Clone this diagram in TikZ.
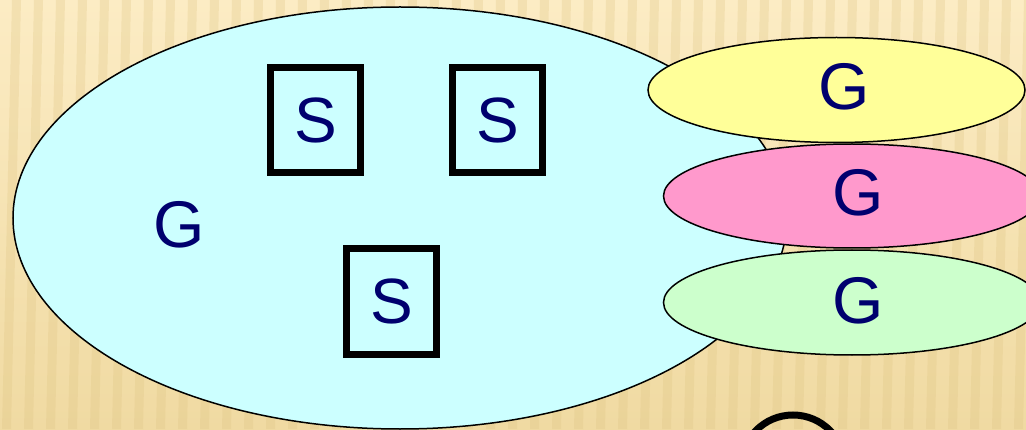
\documentclass[tikz,border=0pt]{standalone}
\usepackage{fontspec}
\setmainfont{Liberation Sans}
\usetikzlibrary{shapes.geometric,positioning}
\definecolor{navy}{RGB}{0,0,110}
\definecolor{skyfill}{RGB}{204,255,255}
\definecolor{yelfill}{RGB}{255,255,153}
\definecolor{pinkfill}{RGB}{255,153,204}
\definecolor{greenfill}{RGB}{204,255,204}
\definecolor{bgtop}{RGB}{252,236,196}
\definecolor{bgbot}{RGB}{240,218,162}
\definecolor{stripe}{RGB}{222,196,130}
\begin{document}
\begin{tikzpicture}[x=1pt, y=1pt,
    lbl/.style={text=navy, font=\fontsize{66}{70}\selectfont, inner sep=0},
    sbox/.style={draw, line width=7pt, fill=skyfill, minimum width=90pt, minimum height=105pt, inner sep=0, text=navy, font=\fontsize{64}{70}\selectfont},
    blob/.style={ellipse, draw, line width=1.5pt, inner sep=0}]
\useasboundingbox (0,0) rectangle (1026,429);
\clip (0,0) rectangle (1026,429);
\shade[top color=bgtop, bottom color=bgbot] (0,0) rectangle (1026,429);
\foreach \x in {-20,2,...,1040}
    \fill[stripe, opacity=.28] (\x,0) -- ++(9,0) -- ++(10,429) -- ++(-9,0) -- cycle;
\node[blob, fill=skyfill, minimum width=774pt, minimum height=422pt] (big) at (400,211) {};
\node[lbl] (gbig) at (179,204) {G};
\node[sbox] (s1) at (315.5,309) {S};
\node[sbox] (s2) at (497.5,309) {S};
\node[sbox] (s3) at (391.5,127.5) {S};
\node[blob, fill=yelfill, minimum width=377pt, minimum height=105pt] (yel) at (836.5,339) {};
\node[blob, fill=pinkfill, minimum width=377pt, minimum height=104pt] (pink) at (852,233) {};
\node[blob, fill=greenfill, minimum width=377pt, minimum height=105pt] (green) at (852,126.5) {};
\node[lbl] (gyel) at ([xshift=8pt, yshift=3pt]yel.center) {G};
\node[lbl] (gpink) at ([xshift=6pt, yshift=3pt]pink.center) {G};
\node[lbl] (ggreen) at ([xshift=6pt, yshift=2pt]green.center) {G};
\node[circle, draw, line width=7pt, minimum size=104pt] (ring) at (793,-38) {};
\end{tikzpicture}
\end{document}
